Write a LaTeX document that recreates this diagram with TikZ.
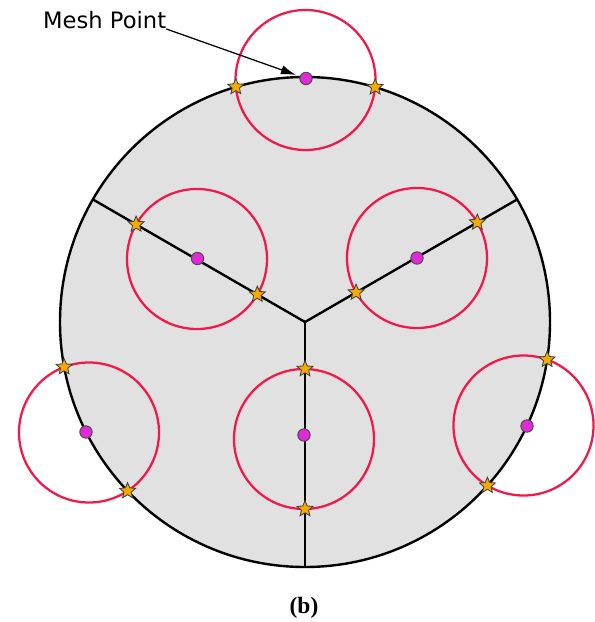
\documentclass[tikz,border=0pt]{standalone}
\usepackage{fontspec}
\setmainfont{Liberation Serif}
\newfontfamily\labelfont{DejaVu Sans}
\usetikzlibrary{positioning, shapes.geometric, arrows.meta, calc, intersections}
\definecolor{meshgray}{HTML}{E1E1E1}
\definecolor{meshred}{HTML}{F2184A}
\definecolor{meshpink}{HTML}{E02AD6}
\definecolor{meshstar}{HTML}{F5AA00}

\begin{document}
\begin{tikzpicture}[x=0.3mm, y=-0.3mm,
        rim/.style={draw=black, line width=0.72mm},
        ring/.style={draw=meshred, line width=0.68mm},
        pt/.style={circle, draw=black!70, fill=meshpink, line width=0.3mm, minimum size=3.7mm, inner sep=0pt},
        st/.style={star, star points=5, star point ratio=2.2, draw=black!75, fill=meshstar, line width=0.25mm, minimum size=5mm, inner sep=0pt}]
      \useasboundingbox (0,0) rectangle (594,622);
      % domain and cuts
      \coordinate (o) at (305,322);
      \fill[meshgray] (o) circle[radius=245*0.3mm];
      \draw[rim, name path=bd] (o) circle[radius=245*0.3mm];
      \draw[rim, name path=sl] (o) -- (93,199.5);
      \draw[rim, name path=sr] (o) -- (517,199.5);
      \draw[rim, name path=sd] (o) -- (305,567);
      % mesh point neighbourhoods
      \draw[ring, name path=cT] (305.5,80) circle[radius=70*0.3mm];
      \draw[ring, name path=cUL] (197,259) circle[radius=70*0.3mm];
      \draw[ring, name path=cUR] (417,258) circle[radius=70*0.3mm];
      \draw[ring, name path=cD] (304,439) circle[radius=70*0.3mm];
      \draw[ring, name path=cL] (89,432.5) circle[radius=70*0.3mm];
      \draw[ring, name path=cR] (523.5,425.5) circle[radius=70*0.3mm];
      % mesh points
      \node[pt] (mT) at (306,78.5) {};
      \node[pt] (mUL) at (197.5,258.5) {};
      \node[pt] (mUR) at (417,258) {};
      \node[pt] (mD) at (304,435) {};
      \node[pt] (mL) at (86,432) {};
      \node[pt] (mR) at (527,426) {};
      % crossings
      \path[name intersections={of=bd and cT, name=iT}];
      \path[name intersections={of=sl and cUL, name=iUL}];
      \path[name intersections={of=sr and cUR, name=iUR}];
      \path[name intersections={of=sd and cD, name=iD}];
      \path[name intersections={of=bd and cL, name=iL}];
      \path[name intersections={of=bd and cR, name=iR}];
      \foreach \c in {iT, iUL, iUR, iD, iL, iR}{
        \node[st] at (\c-1) {};
        \node[st] at (\c-2) {};
      }
      % labels
      \node[anchor=west, font=\labelfont\fontsize{19.3}{22}\selectfont, inner sep=0pt] (lbl) at (43,20) {Mesh Point};
      \draw[-{Latex[length=4.5mm, width=2.8mm]}, line width=0.38mm, shorten >=1.2mm] (lbl.south east) -- (mT);
      \node[font=\bfseries\fontsize{20}{23}\selectfont] (cap) at (304,608) {(b)};
    \end{tikzpicture}
\end{document}
